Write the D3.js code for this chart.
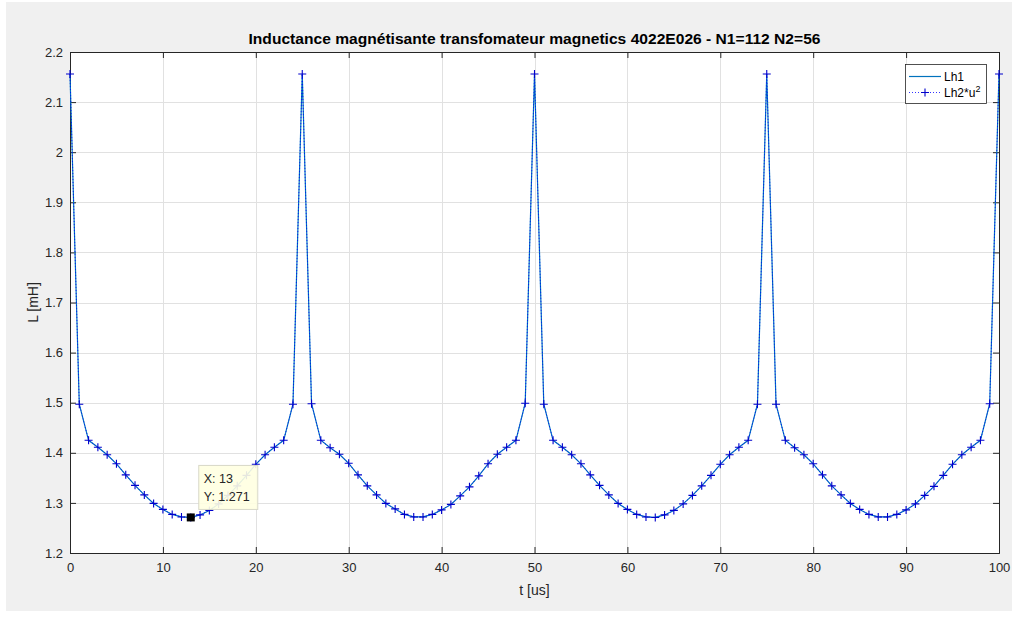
<!DOCTYPE html>
<html>
<head>
<meta charset="utf-8">
<script src="https://cdn.jsdelivr.net/npm/d3@7"></script>
<style>
  html, body { margin: 0; padding: 0; background: #ffffff; }
  svg { display: block; }
  text { font-family: "Liberation Sans", Arial, Helvetica, sans-serif; }
</style>
</head>
<body>
<svg id="chart" width="1018" height="617"></svg>
<script>
// Time samples in microseconds (1 us step)
const timeUs = d3.range(0, 101);

// Magnetising inductance seen from the primary, mH
const lh1 = [
  2.156, 1.497, 1.425, 1.411, 1.396, 1.378, 1.356, 1.335, 1.316, 1.299,
  1.287, 1.277, 1.272, 1.271, 1.276, 1.285, 1.298, 1.315, 1.334, 1.355,
  1.377, 1.396, 1.411, 1.425, 1.497,
  2.156, 1.498, 1.425, 1.410, 1.397, 1.379, 1.356, 1.334, 1.316, 1.299,
  1.288, 1.277, 1.272, 1.272, 1.277, 1.286, 1.297, 1.314, 1.332, 1.354,
  1.378, 1.397, 1.411, 1.425, 1.499,
  2.156, 1.497, 1.425, 1.411, 1.396, 1.378, 1.356, 1.335, 1.316, 1.299,
  1.287, 1.277, 1.272, 1.271, 1.276, 1.285, 1.298, 1.315, 1.334, 1.355,
  1.377, 1.396, 1.411, 1.425, 1.497,
  2.156, 1.497, 1.425, 1.410, 1.396, 1.378, 1.356, 1.334, 1.316, 1.299,
  1.287, 1.277, 1.272, 1.272, 1.277, 1.286, 1.298, 1.315, 1.333, 1.355,
  1.377, 1.396, 1.411, 1.425, 1.498,
  2.156
];

// Secondary inductance brought back to the primary (Lh2 * u^2), mH
const lh2u2 = [
  2.156, 1.497, 1.425, 1.411, 1.396, 1.378, 1.356, 1.335, 1.316, 1.299,
  1.287, 1.277, 1.272, 1.271, 1.276, 1.285, 1.298, 1.315, 1.334, 1.355,
  1.377, 1.396, 1.411, 1.425, 1.497,
  2.156, 1.498, 1.425, 1.410, 1.397, 1.379, 1.356, 1.334, 1.316, 1.299,
  1.288, 1.277, 1.272, 1.272, 1.277, 1.286, 1.297, 1.314, 1.332, 1.354,
  1.378, 1.397, 1.411, 1.425, 1.499,
  2.156, 1.497, 1.425, 1.411, 1.396, 1.378, 1.356, 1.335, 1.316, 1.299,
  1.287, 1.277, 1.272, 1.271, 1.276, 1.285, 1.298, 1.315, 1.334, 1.355,
  1.377, 1.396, 1.411, 1.425, 1.497,
  2.156, 1.497, 1.425, 1.410, 1.396, 1.378, 1.356, 1.334, 1.316, 1.299,
  1.287, 1.277, 1.272, 1.272, 1.277, 1.286, 1.298, 1.315, 1.333, 1.355,
  1.377, 1.396, 1.411, 1.425, 1.498,
  2.156
];

const xTicks = [0, 10, 20, 30, 40, 50, 60, 70, 80, 90, 100];
const yTicks = [1.2, 1.3, 1.4, 1.5, 1.6, 1.7, 1.8, 1.9, 2.0, 2.1, 2.2];
const seriesNames = ["Lh1", "Lh2*u"];
const titleText = "Inductance magnétisante transfomateur magnetics 4022E026 - N1=112 N2=56";
const xLabelText = "t [us]";
const yLabelText = "L [mH]";
const tipIndex = 13;

const W = 1018, H = 617;
const plot = { left: 70, right: 999, top: 52, bottom: 553 };

const svg = d3.select("#chart");

// figure background
svg.append("rect").attr("x", 6).attr("y", 2).attr("width", W - 12).attr("height", H - 8)
  .attr("fill", "#f0f0f0");

const x = d3.scaleLinear().domain([0, 100]).range([plot.left, plot.right]);
const y = d3.scaleLinear().domain([1.2, 2.2]).range([plot.bottom, plot.top]);

// axes area
svg.append("rect")
  .attr("x", plot.left).attr("y", plot.top)
  .attr("width", plot.right - plot.left).attr("height", plot.bottom - plot.top)
  .attr("fill", "#ffffff");

// grid
const grid = svg.append("g").attr("stroke", "#e1e1e1").attr("stroke-width", 1);
grid.selectAll("line.vx").data(xTicks.slice(1, -1)).join("line")
  .attr("x1", d => Math.round(x(d)) + 0.5).attr("x2", d => Math.round(x(d)) + 0.5)
  .attr("y1", plot.top).attr("y2", plot.bottom);
grid.selectAll("line.hy").data(yTicks.slice(1, -1)).join("line")
  .attr("y1", d => Math.round(y(d)) + 0.5).attr("y2", d => Math.round(y(d)) + 0.5)
  .attr("x1", plot.left).attr("x2", plot.right);

// axes with inward ticks
const tickLen = 6;
const fmtY = d => (d === 2 ? "2" : d3.format(".1f")(d));
const axB = svg.append("g").attr("transform", `translate(0,${plot.bottom})`)
  .call(d3.axisBottom(x).tickValues(xTicks).tickSize(-tickLen).tickPadding(10).tickFormat(d3.format("d")));
const axT = svg.append("g").attr("transform", `translate(0,${plot.top})`)
  .call(d3.axisTop(x).tickValues(xTicks).tickSize(-tickLen).tickFormat(""));
const axL = svg.append("g").attr("transform", `translate(${plot.left},0)`)
  .call(d3.axisLeft(y).tickValues(yTicks).tickSize(-tickLen).tickPadding(7).tickFormat(fmtY));
const axR = svg.append("g").attr("transform", `translate(${plot.right},0)`)
  .call(d3.axisRight(y).tickValues(yTicks).tickSize(-tickLen).tickFormat(""));
[axB, axT, axL, axR].forEach(a => {
  a.select(".domain").attr("stroke", "#262626");
  a.selectAll(".tick line").attr("stroke", "#262626");
  a.selectAll(".tick text").attr("fill", "#262626").attr("font-size", 13)
    .style("font-family", '"Liberation Sans", Arial, sans-serif');
});

// series lines
const pts1 = timeUs.map((t, i) => [t, lh1[i]]);
const pts2 = timeUs.map((t, i) => [t, lh2u2[i]]);
const line = d3.line().x(d => x(d[0])).y(d => y(d[1]));

svg.append("path").datum(pts1).attr("d", line)
  .attr("fill", "none").attr("stroke", "#0072bd").attr("stroke-width", 1.2);
svg.append("path").datum(pts2).attr("d", line)
  .attr("fill", "none").attr("stroke", "#0000ff").attr("stroke-width", 0.8)
  .attr("stroke-dasharray", "1,2");

// plus markers on the second series
const mk = 4;
svg.append("g").attr("stroke", "#0000cc").attr("stroke-width", 1.1)
  .selectAll("path").data(pts2).join("path")
  .attr("d", d => {
    const cx = x(d[0]), cy = y(d[1]);
    return `M${cx - mk},${cy}H${cx + mk}M${cx},${cy - mk}V${cy + mk}`;
  });

// title and axis labels
svg.append("text").attr("x", (plot.left + plot.right) / 2).attr("y", 44)
  .attr("text-anchor", "middle").attr("font-weight", "bold").attr("font-size", 15)
  .attr("textLength", 572).attr("lengthAdjust", "spacingAndGlyphs")
  .attr("fill", "#000").text(titleText);
svg.append("text").attr("x", (plot.left + plot.right) / 2).attr("y", 595)
  .attr("text-anchor", "middle").attr("font-size", 14).attr("fill", "#262626").text(xLabelText);
svg.append("text").attr("transform", `translate(38,${(plot.top + plot.bottom) / 2}) rotate(-90)`)
  .attr("text-anchor", "middle").attr("font-size", 14).attr("fill", "#262626").text(yLabelText);

// legend
const lg = svg.append("g").attr("transform", "translate(905,64)");
lg.append("rect").attr("x", 0.5).attr("y", 0.5).attr("width", 81).attr("height", 39)
  .attr("fill", "#ffffff").attr("stroke", "#262626").attr("stroke-width", 0.8);
lg.append("line").attr("x1", 4).attr("x2", 36).attr("y1", 12.5).attr("y2", 12.5)
  .attr("stroke", "#0072bd").attr("stroke-width", 1.2);
lg.append("text").attr("x", 39).attr("y", 17).attr("font-size", 12).attr("fill", "#000").text(seriesNames[0]);
lg.append("line").attr("x1", 4).attr("x2", 36).attr("y1", 28.5).attr("y2", 28.5)
  .attr("stroke", "#0000ff").attr("stroke-width", 0.8).attr("stroke-dasharray", "1,2");
lg.append("path").attr("d", `M${20 - mk},28.5H${20 + mk}M20,${28.5 - mk}V${28.5 + mk}`)
  .attr("stroke", "#0000cc").attr("stroke-width", 1.1);
const t2 = lg.append("text").attr("x", 39).attr("y", 33).attr("font-size", 12).attr("fill", "#000");
t2.append("tspan").text(seriesNames[1]);
t2.append("tspan").attr("dy", -5).attr("font-size", 9).text("2");

// data tip at the minimum of the first period
const tx = x(timeUs[tipIndex]), ty = y(lh1[tipIndex]);
svg.append("rect").attr("x", tx - 4).attr("y", ty - 4).attr("width", 8).attr("height", 8)
  .attr("fill", "#000");
const tip = svg.append("g").attr("transform", `translate(${tx + 8},${ty - 52})`);
tip.append("rect").attr("x", 0).attr("y", 0).attr("width", 59).attr("height", 44)
  .attr("fill", "#ffffe1").attr("fill-opacity", 0.9).attr("stroke", "#d8d8c8");
tip.append("text").attr("x", 5).attr("y", 18).attr("font-size", 12.5).attr("fill", "#262626")
  .text(`X: ${timeUs[tipIndex]}`);
tip.append("text").attr("x", 5).attr("y", 36).attr("font-size", 12.5).attr("fill", "#262626")
  .text(`Y: ${d3.format(".3f")(lh1[tipIndex])}`);
</script>
</body>
</html>
